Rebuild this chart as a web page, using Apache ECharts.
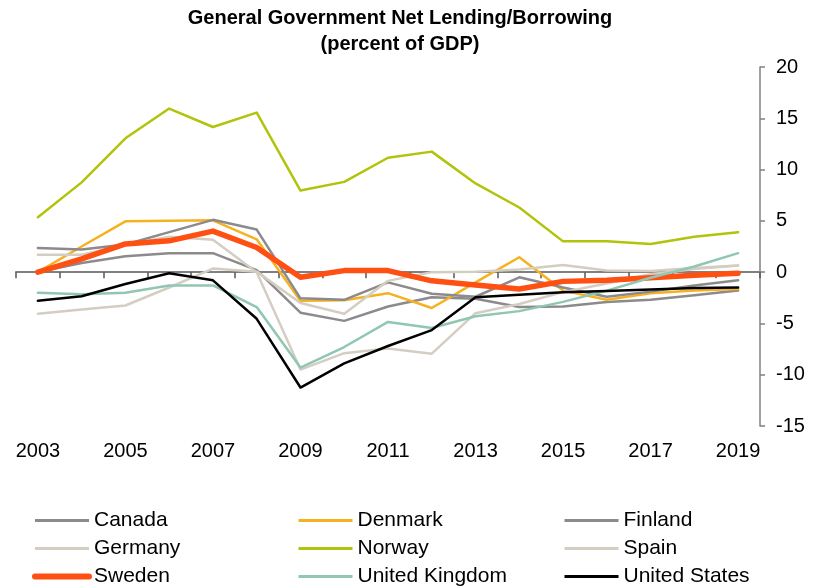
<!DOCTYPE html>
<html>
<head>
<meta charset="utf-8">
<title>General Government Net Lending/Borrowing</title>
<script src="https://cdn.jsdelivr.net/npm/echarts@6/dist/echarts.min.js"></script>
<style>
  html, body { margin: 0; padding: 0; background: #fff; }
  #chart { width: 818px; height: 587px; }
</style>
</head>
<body>
<div id="chart"></div>
<script>
// Years on the category axis
const years = ['2003', '2004', '2005', '2006', '2007', '2008', '2009', '2010', '2011',
               '2012', '2013', '2014', '2015', '2016', '2017', '2018', '2019'];

// Net lending (+) / borrowing (-), percent of GDP
const canada  = [0.0, 0.9, 1.55, 1.85, 1.85, 0.2, -3.95, -4.75, -3.35, -2.45, -2.6, -3.4, -3.35, -2.9, -2.7, -2.25, -1.8];
const denmark = [0.0, 2.5, 4.95, 5.0, 5.05, 3.2, -2.8, -2.75, -2.05, -3.5, -1.0, 1.45, -1.8, -2.7, -2.05, -1.8, -1.65];
const finland = [2.35, 2.2, 2.7, 3.9, 5.1, 4.15, -2.55, -2.7, -1.0, -2.1, -2.4, -0.5, -1.5, -2.4, -1.9, -1.3, -0.8];
const germany = [-4.05, -3.65, -3.25, -1.5, 0.35, 0.05, -3.0, -4.05, -0.85, 0.0, 0.05, 0.25, 0.7, 0.15, 0.1, 0.4, 0.65];
const norway  = [5.35, 8.75, 13.05, 15.95, 14.15, 15.55, 7.95, 8.8, 11.15, 11.75, 8.65, 6.3, 3.0, 3.0, 2.75, 3.45, 3.9];
const spain   = [1.7, 1.7, 2.65, 3.45, 3.15, 0.0, -9.5, -7.9, -7.45, -7.95, -4.0, -3.1, -1.95, -1.1, -0.2, 0.3, 0.65];
const sweden  = [0.0, 1.3, 2.75, 3.05, 4.0, 2.4, -0.5, 0.15, 0.15, -0.85, -1.25, -1.65, -0.9, -0.8, -0.55, -0.3, -0.1];
const uk      = [-2.0, -2.15, -2.0, -1.3, -1.3, -3.4, -9.3, -7.3, -4.85, -5.45, -4.3, -3.8, -2.9, -1.8, -0.55, 0.55, 1.85];
const us      = [-2.8, -2.35, -1.15, -0.1, -0.8, -4.55, -11.25, -8.9, -7.2, -5.65, -2.45, -2.2, -1.95, -1.85, -1.7, -1.55, -1.5];

// Value-axis range and step
const yMin = -15;
const yMax = 20;
const yStep = 5;

const FONT = '"Liberation Sans", Arial, Helvetica, sans-serif';

// name, values, colour, line width
const seriesDefs = [
  ['Canada', canada, '#8c8a8c', 2.5],
  ['Denmark', denmark, '#f6b120', 2.5],
  ['Finland', finland, '#8c8a8c', 2.5],
  ['Germany', germany, '#d4cec2', 2.5],
  ['Norway', norway, '#b2c30b', 2.5],
  ['Spain', spain, '#d4cec2', 2.5],
  ['Sweden', sweden, '#ff5014', 5.5],
  ['United Kingdom', uk, '#90c6b2', 2.5],
  ['United States', us, '#000000', 2.5]
];

const series = seriesDefs.map(([name, values, color, width]) => ({
  name: name,
  type: 'line',
  xAxisIndex: 0,
  yAxisIndex: 0,
  data: values,
  symbol: 'none',
  showSymbol: false,
  smooth: false,
  animation: false,
  color: color,
  lineStyle: { color: color, width: width, cap: 'round', join: 'round' },
  emphasis: { disabled: true }
}));

function legendColumn(left, names) {
  return {
    orient: 'vertical',
    left: left,
    top: 510,
    padding: 0,
    itemWidth: 54,
    itemHeight: 21,
    itemGap: 7,
    selectedMode: false,
    itemStyle: { opacity: 0 },
    lineStyle: { width: 3, cap: 'butt' },
    textStyle: { fontFamily: FONT, fontSize: 21, color: '#000', lineHeight: 21 },
    data: names.map(n => n === 'Sweden'
      ? { name: n, lineStyle: { width: 6, cap: 'round' } }
      : { name: n })
  };
}

const chart = echarts.init(document.getElementById('chart'), null, { renderer: 'canvas' });

chart.setOption({
  backgroundColor: '#ffffff',
  animation: false,
  title: {
    text: 'General Government Net Lending/Borrowing\n(percent of GDP)',
    left: 400,
    top: 5,
    padding: 0,
    textAlign: 'center',
    textStyle: { fontFamily: FONT, fontSize: 20, fontWeight: 'bold', color: '#000', lineHeight: 26 }
  },
  legend: [
    legendColumn(32, ['Canada', 'Germany', 'Sweden']),
    legendColumn(297, ['Denmark', 'Norway', 'United Kingdom']),
    legendColumn(563, ['Finland', 'Spain', 'United States'])
  ],
  grid: {
    left: 16,
    right: 58,
    top: 67,
    bottom: 161,
    containLabel: false,
    outerBoundsMode: 'none'
  },
  xAxis: [
    {
      // year labels along the bottom edge of the plot
      type: 'category',
      data: years,
      position: 'bottom',
      boundaryGap: true,
      axisLine: { show: false, onZero: false },
      axisTick: { show: false },
      splitLine: { show: false },
      axisLabel: {
        interval: 1,
        margin: 15,
        fontFamily: FONT,
        fontSize: 20,
        color: '#000'
      }
    },
    {
      // axis line with ticks drawn through zero
      type: 'category',
      data: years,
      position: 'top',
      boundaryGap: true,
      axisLine: { show: true, onZero: true, lineStyle: { color: '#808080', width: 2 } },
      axisTick: { show: true, inside: true, interval: 0, length: 6, lineStyle: { color: '#555555', width: 1.5 } },
      axisLabel: { show: false },
      splitLine: { show: false }
    }
  ],
  yAxis: {
    type: 'value',
    position: 'right',
    min: yMin,
    max: yMax,
    interval: yStep,
    axisLine: { show: true, onZero: false, lineStyle: { color: '#808080', width: 1.5 } },
    axisTick: { show: true, inside: false, length: 5, lineStyle: { color: '#808080', width: 1.5 } },
    splitLine: { show: false },
    axisLabel: {
      margin: 16,
      fontFamily: FONT,
      fontSize: 20,
      color: '#000'
    }
  },
  series: series
});
</script>
</body>
</html>
